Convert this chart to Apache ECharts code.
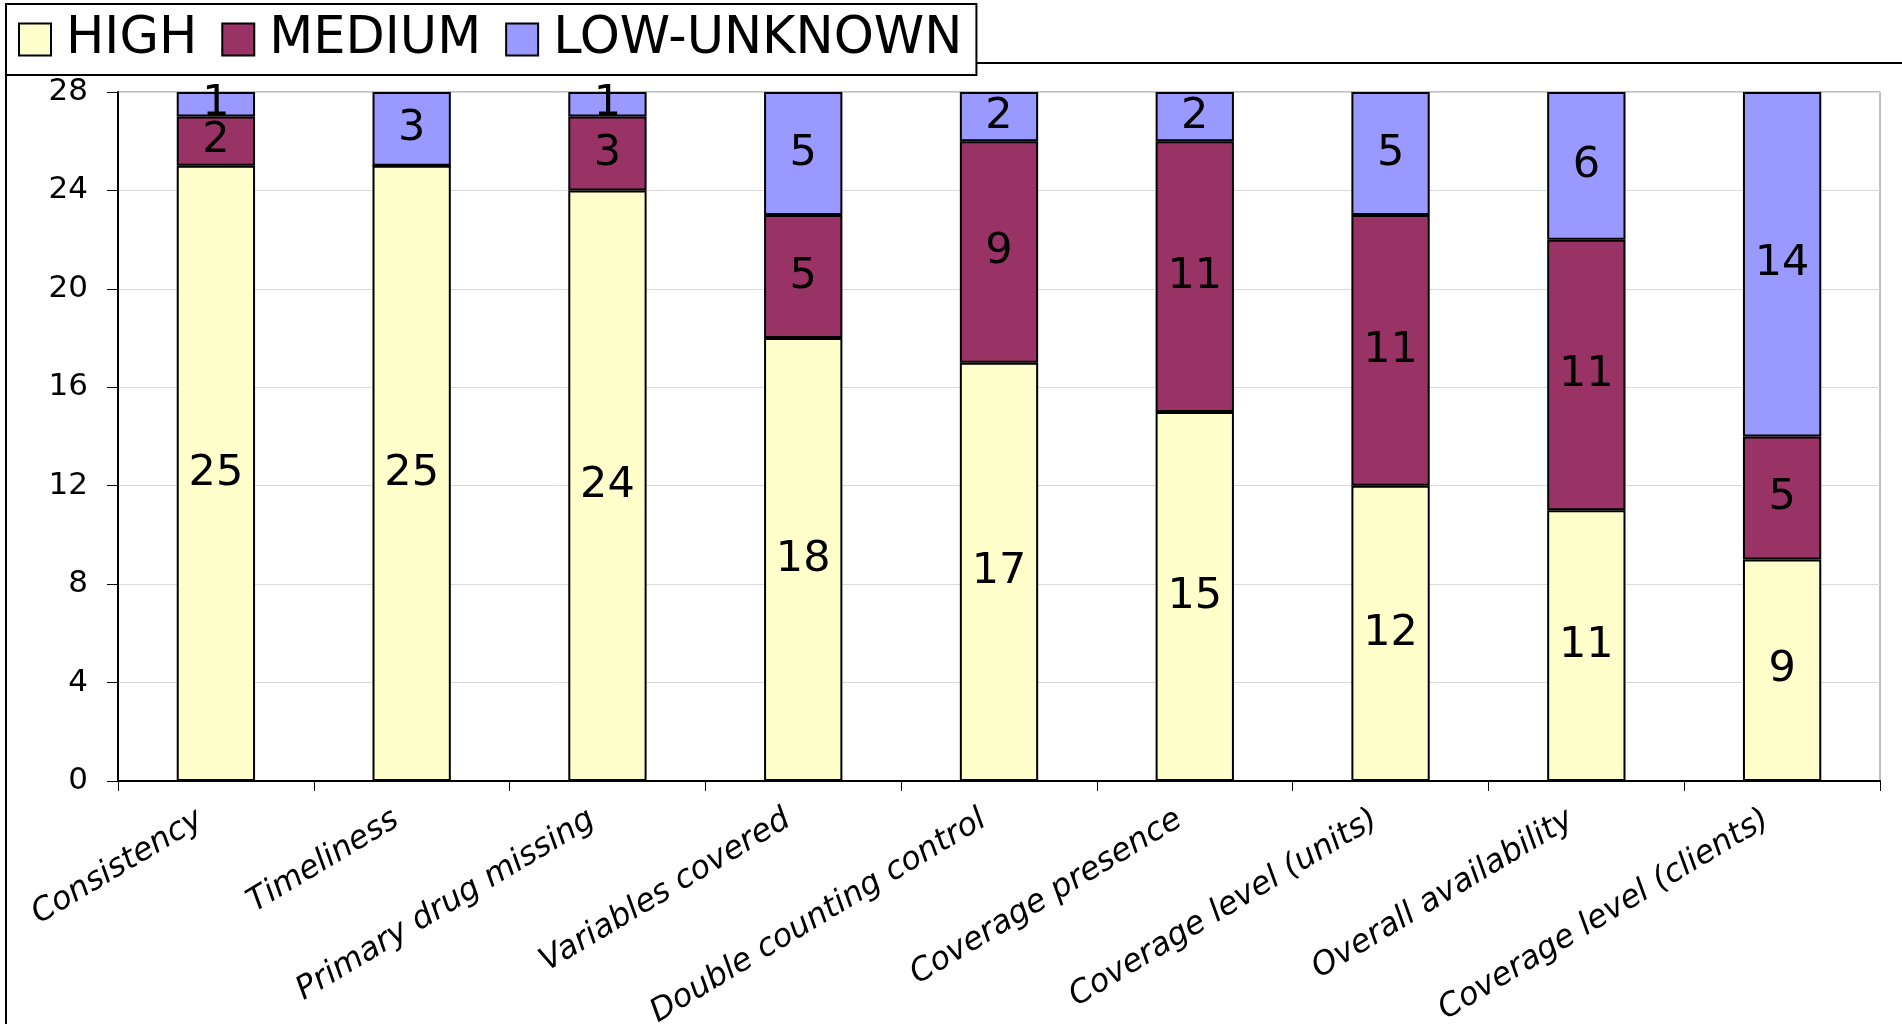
<!DOCTYPE html>
<html>
<head>
<meta charset="utf-8">
<script src="https://cdn.jsdelivr.net/npm/echarts@6/dist/echarts.min.js"></script>
<style>
body {
  margin: 0px;
  padding: 0px;
  background: #fff;
}
#chart {
  width: 1902px;
  height: 1024px;
}
</style>
</head>
<body>
<div id="chart"></div>
<script>
// categories and stacked counts
const categories = [
  "Consistency",
  "Timeliness",
  "Primary drug missing",
  "Variables covered",
  "Double counting control",
  "Coverage presence",
  "Coverage level (units)",
  "Overall availability",
  "Coverage level (clients)",
];
const seriesNames = ["HIGH", "MEDIUM", "LOW-UNKNOWN"];
const high = [25, 25, 24, 18, 17, 15, 12, 11, 9];
const medium = [2, 0, 3, 5, 9, 11, 11, 11, 5];
const lowUnknown = [1, 3, 1, 5, 2, 2, 5, 6, 14];
const colors = ["#FFFFCC", "#993366", "#9999FF"];

const font = "DejaVu Sans";

function makeSeries(name, data, color) {
  return {
    name: name,
    type: "bar",
    stack: "total",
    barWidth: "40%",
    data: data,
    itemStyle: { color: color, borderColor: "#000", borderWidth: 2 },
    label: {
      show: true,
      position: "inside",
      color: "#000",
      fontFamily: font,
      fontSize: 43,
      formatter: (p) => (p.value === 0 ? "" : p.value),
    },
  };
}

let chart = echarts.init(document.querySelector("#chart"));
chart.setOption({
  backgroundColor: "#fff",
  animation: false,
  graphic: [
    {
      type: "rect",
      z: 0,
      shape: { x: 6, y: 63, width: 2000, height: 1000 },
      style: { fill: "none", stroke: "#000", lineWidth: 2 },
    },
  ],
  legend: {
    z: 10,
    left: 6,
    top: 4,
    padding: [10, 14, 10, 12],
    icon: "rect",
    itemWidth: 32,
    itemHeight: 32,
    itemGap: 24,
    backgroundColor: "#fff",
    borderColor: "#000",
    borderWidth: 2,
    borderRadius: 0,
    itemStyle: { borderColor: "#000", borderWidth: 2 },
    textStyle: {
      fontFamily: font,
      fontSize: 51,
      color: "#000",
      lineHeight: 38,
      padding: [0, 0, 0, 10],
    },
    data: seriesNames,
  },
  grid: {
    left: 118,
    top: 92,
    right: 22,
    bottom: 243,
    outerBoundsMode: "none",
    show: true,
    borderColor: "#808080",
    borderWidth: 1,
  },
  xAxis: {
    type: "category",
    data: categories,
    axisLine: { lineStyle: { color: "#000", width: 2 } },
    axisTick: { show: true, length: 10, lineStyle: { color: "#000", width: 1 } },
    axisLabel: {
      rotate: 31,
      margin: 27,
      interval: 0,
      color: "#000",
      fontFamily: font,
      fontStyle: "italic",
      fontSize: 32,
      padding: [0, 18, 0, 0],
    },
  },
  yAxis: {
    type: "value",
    min: 0,
    max: 28,
    interval: 4,
    axisLine: { show: true, lineStyle: { color: "#000", width: 2 } },
    axisTick: { show: true, length: 11, lineStyle: { color: "#000", width: 1 } },
    axisLabel: { color: "#000", fontFamily: font, fontSize: 31, margin: 30 },
    splitLine: { lineStyle: { color: "#d9d9d9", width: 1 } },
  },
  series: [
    makeSeries(seriesNames[0], high, colors[0]),
    makeSeries(seriesNames[1], medium, colors[1]),
    makeSeries(seriesNames[2], lowUnknown, colors[2]),
  ],
});
</script>
</body>
</html>
